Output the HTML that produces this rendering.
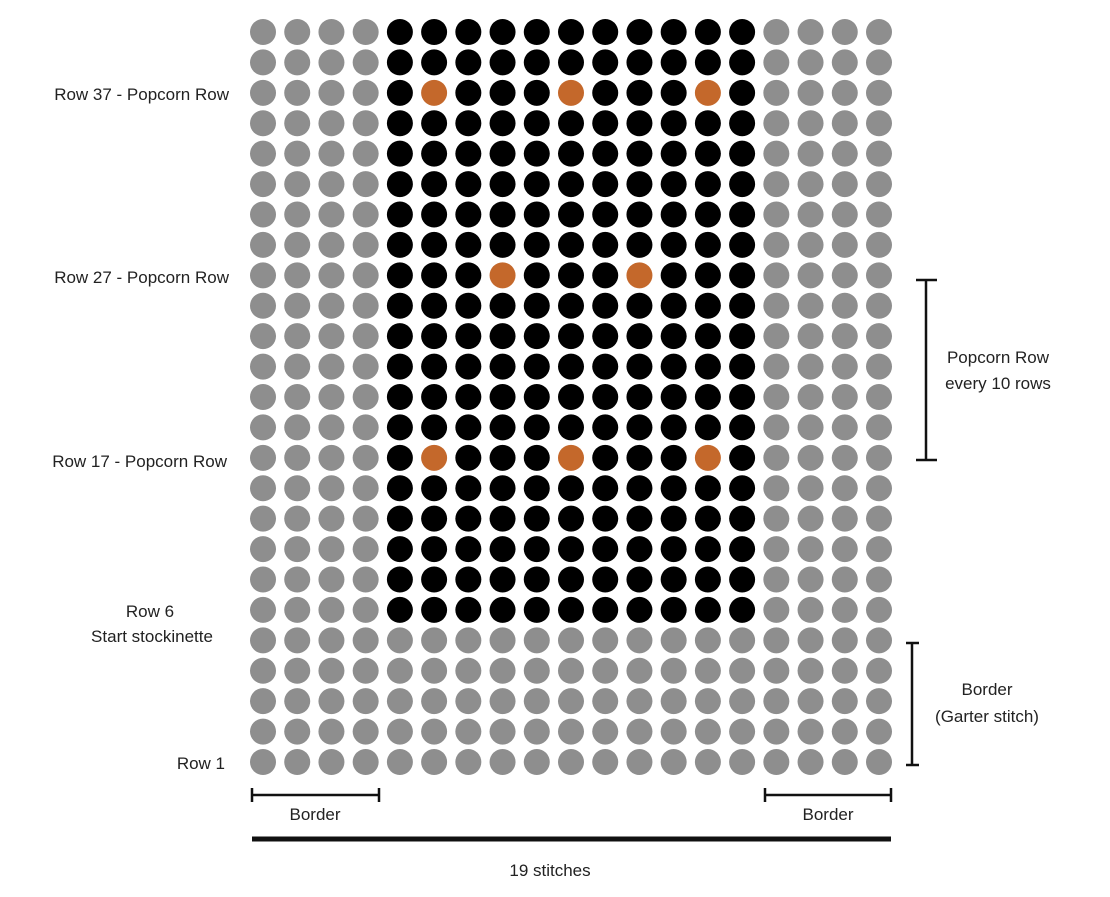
<!DOCTYPE html>
<html><head><meta charset="utf-8"><style>
body{margin:0;background:#fff;width:1110px;height:897px;overflow:hidden}
svg{display:block}
text{font-family:"Liberation Sans",sans-serif;font-size:17px;fill:#222}
</style></head><body>
<svg id="c" width="1110" height="897">
<g id="dots"></g>
<g stroke="#111" stroke-width="2.5" fill="none">
<path d="M926 280V460M916 280H937M916 460H937"/>
<path d="M912 643V765M906 643H919M906 765H919"/>
<path d="M252 795H379M252 788V802M379 788V802"/>
<path d="M765 795H891M765 788V802M891 788V802"/>
<path d="M252 839H891" stroke-width="5"/>
</g>
<text x="229" y="100" text-anchor="end">Row 37 - Popcorn Row</text>
<text x="229" y="283" text-anchor="end">Row 27 - Popcorn Row</text>
<text x="227" y="467" text-anchor="end">Row 17 - Popcorn Row</text>
<text x="150" y="617" text-anchor="middle">Row 6</text>
<text x="152" y="642" text-anchor="middle">Start stockinette</text>
<text x="225" y="769" text-anchor="end">Row 1</text>
<text x="998" y="363" text-anchor="middle">Popcorn Row</text>
<text x="998" y="389" text-anchor="middle">every 10 rows</text>
<text x="987" y="695" text-anchor="middle">Border</text>
<text x="987" y="722" text-anchor="middle">(Garter stitch)</text>
<text x="315" y="820" text-anchor="middle">Border</text>
<text x="828" y="820" text-anchor="middle">Border</text>
<text x="550" y="876" text-anchor="middle">19 stitches</text>
</svg>
<script>
const numCols = 19;
const numRows = 25;
const borderRows = 5;
const borderCols = 4;
const popcornRows = [10, 16, 22];
const popcornCols = [[5, 9, 13], [7, 11], [5, 9, 13]];
const xs = c => 263 + c * (879 - 263) / 18;
const ys = r => 762 - r * (762 - 32) / 24;
const g = document.getElementById('dots');
for (let r = 0; r < numRows; r++) {
  for (let c = 0; c < numCols; c++) {
    let fill = '#8e8e8e';
    if (r >= borderRows && c >= borderCols && c < numCols - borderCols) fill = '#000';
    const pi = popcornRows.indexOf(r);
    if (pi >= 0 && popcornCols[pi].includes(c)) fill = '#c4682b';
    const el = document.createElementNS('http://www.w3.org/2000/svg', 'circle');
    el.setAttribute('cx', xs(c));
    el.setAttribute('cy', ys(r));
    el.setAttribute('r', 13);
    el.setAttribute('fill', fill);
    
    
    g.appendChild(el);
  }
}
</script>
</body></html>
